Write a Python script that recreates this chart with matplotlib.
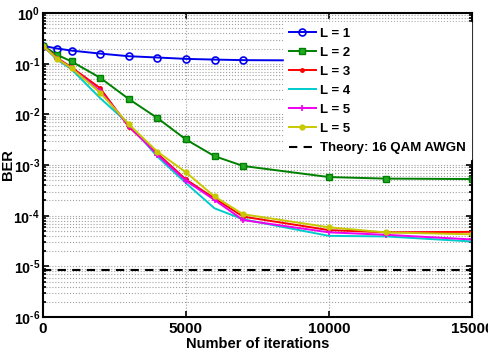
import matplotlib
matplotlib.use("Agg")
import matplotlib.pyplot as plt
import numpy as np
from matplotlib.ticker import LogLocator, NullFormatter, FixedLocator, FuncFormatter

plt.rcParams['font.family'] = ['Liberation Sans', 'DejaVu Sans']
plt.rcParams['font.weight'] = 'bold'
plt.rcParams['mathtext.fontset'] = 'custom'
plt.rcParams['mathtext.rm'] = 'Liberation Sans:bold'
plt.rcParams['mathtext.bf'] = 'Liberation Sans:bold'
plt.rcParams['mathtext.default'] = 'bf'

iterations = [0, 500, 1000, 2000, 3000, 4000, 5000, 6000, 7000, 10000, 12000, 15000]
ber_L1 = [0.226, 0.200, 0.182, 0.159, 0.141, 0.133, 0.125, 0.121, 0.118, 0.116, 0.115, 0.114]
ber_L2 = [0.226, 0.150, 0.111, 0.053, 0.0202, 0.0085, 0.0032, 0.0015, 0.00096, 0.00058, 0.00054, 0.00053]
ber_L3 = [0.226, 0.130, 0.085, 0.033, 0.0057, 0.0017, 0.00052, 0.00022, 0.000096, 0.000052, 0.000047, 0.000048]
ber_L4 = [0.226, 0.120, 0.078, 0.021, 0.0065, 0.00147, 0.00044, 0.00014, 0.000085, 0.000040, 0.000039, 0.000031]
ber_L5a = [0.226, 0.125, 0.082, 0.029, 0.0060, 0.0016, 0.00049, 0.000205, 0.000082, 0.000047, 0.000042, 0.000034]
ber_L5b = [0.226, 0.125, 0.082, 0.027, 0.0064, 0.00184, 0.00072, 0.00024, 0.000107, 0.000059, 0.0000468, 0.000043]
theory_ber = 8.5e-6

labels = ['L = 1', 'L = 2', 'L = 3', 'L = 4', 'L = 5', 'L = 5', 'Theory: 16 QAM AWGN']

fig = plt.figure(figsize=(4.88, 3.55), dpi=100)
ax = fig.add_axes([0.088, 0.107, 0.879, 0.856])

lw = 1.4
ax.semilogy(iterations, ber_L1, color='#0000ee', marker='o', ms=5, mfc='none', mew=1.2, lw=lw, label=labels[0])
ax.semilogy(iterations, ber_L2, color='#008000', marker='s', ms=5, mfc='#22aa22', mew=1.0, lw=lw, label=labels[1])
ax.semilogy(iterations, ber_L3, color='#ff0000', marker='.', ms=5, lw=lw, label=labels[2])
ax.semilogy(iterations, ber_L4, color='#00cccc', lw=lw, label=labels[3])
ax.semilogy(iterations, ber_L5a, color='#ee00ee', marker='+', ms=5, mew=1.2, lw=lw, label=labels[4])
ax.semilogy(iterations, ber_L5b, color='#c8c800', marker='.', ms=7, lw=lw, label=labels[5])
ax.axhline(theory_ber, color='black', ls=(0, (4, 3)), lw=1.5, label=labels[6])

ax.set_xlim(0, 15000)
ax.set_ylim(1e-6, 1)
ax.xaxis.set_major_locator(FixedLocator([0, 5000, 10000, 15000]))
ax.yaxis.set_major_locator(LogLocator(base=10, numticks=10))
ax.yaxis.set_minor_locator(LogLocator(base=10, subs=range(2, 10), numticks=20))
ax.yaxis.set_minor_formatter(NullFormatter())


def log_fmt(v, pos):
    n = int(round(np.log10(v)))
    if n < 0:
        return r'$10^{\text{-%d}}$' % (-n)
    return r'$10^{%d}$' % n


ax.yaxis.set_major_formatter(FuncFormatter(log_fmt))

ax.grid(True, which='major', axis='both', color='#a0a0a0', ls=':', lw=0.8)
ax.grid(True, which='minor', axis='y', color='#a0a0a0', ls=':', lw=0.8)

ax.tick_params(which='both', direction='in', top=True, right=True, labelsize=11, width=1.2)
ax.tick_params(axis='y', pad=2, labelsize=10.3)
ax.tick_params(which='major', length=4)
ax.tick_params(which='minor', length=2)
for s in ax.spines.values():
    s.set_linewidth(1.5)
for lbl in ax.get_xticklabels() + ax.get_yticklabels():
    lbl.set_fontweight('bold')

ax.set_xlabel('Number of iterations', fontsize=10.5, fontweight='bold', labelpad=1)
ax.set_ylabel('BER', fontsize=10.5, fontweight='bold')
ax.yaxis.set_label_coords(-0.066, 0.5)

leg = ax.legend(loc='upper right', bbox_to_anchor=(1.0, 0.975), fontsize=9.5, frameon=True,
                fancybox=False, edgecolor='white', framealpha=1.0, handlelength=2.0,
                handletextpad=0.3, labelspacing=0.52, borderaxespad=0.1)
for t in leg.get_texts():
    t.set_fontweight('bold')

fig.savefig('out.png', dpi=100)
